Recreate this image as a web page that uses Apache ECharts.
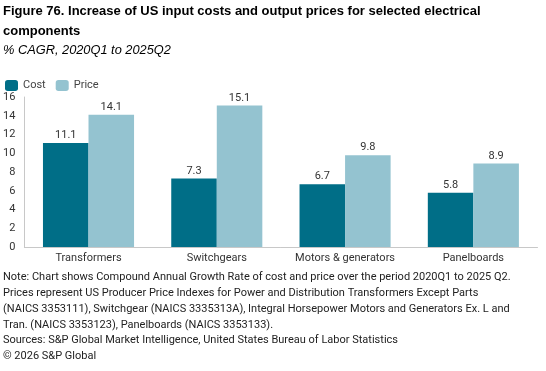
<!DOCTYPE html>
<html><head><meta charset="utf-8">
<script src="https://cdn.jsdelivr.net/npm/echarts@6/dist/echarts.min.js"></script>
<style>html,body{margin:0;padding:0;background:#fff}#c{width:546px;height:371px}</style>
</head><body><div id="c"></div>
<script>
const categories = ["Transformers", "Switchgears", "Motors & generators", "Panelboards"];
const costValues = [11.1, 7.3, 6.7, 5.8];
const priceValues = [14.1, 15.1, 9.8, 8.9];
const yTicks = [0, 2, 4, 6, 8, 10, 12, 14, 16];
const titleLines = ["Figure 76. Increase of US input costs and output prices for selected electrical", "components"];
const subtitle = "% CAGR, 2020Q1 to 2025Q2";
const noteLines = [
  "Note: Chart shows Compound Annual Growth Rate of cost and price over the period 2020Q1 to 2025 Q2.",
  "Prices represent US Producer Price Indexes for Power and Distribution Transformers Except Parts",
  "(NAICS 3353111), Switchgear (NAICS 3335313A), Integral Horsepower Motors and Generators Ex. L and",
  "Tran. (NAICS 3353123), Panelboards (NAICS 3353133).",
  "Sources: S&P Global Market Intelligence, United States Bureau of Labor Statistics",
  "\u00A9 2026 S&P Global"
];

const chart = echarts.init(document.getElementById('c'), null, {renderer: 'canvas'});
const FONT = 'Roboto';
const graphics = [];
titleLines.forEach((t, i) => graphics.push({type: 'text', left: 3, top: 5 + i * 20,
  style: {text: t, font: 'bold 13px "Liberation Sans"', fill: '#000'}}));
graphics.push({type: 'text', left: 3, top: 44, style: {text: subtitle, font: 'italic 12.8px "Liberation Sans"', fill: '#000'}});
noteLines.forEach((t, i) => graphics.push({type: 'text', left: 3, top: 272 + i * 15.8,
  style: {text: t, font: '11px ' + FONT, fill: '#222'}}));

chart.setOption({
  animation: false,
  textStyle: {fontFamily: FONT},
  legend: {left: 0, top: 75, itemWidth: 13, itemHeight: 11, itemGap: 10,
    textStyle: {fontSize: 11, color: '#444', fontFamily: FONT},
    data: ['Cost', 'Price']},
  grid: {left: 20.5, right: 8.5, top: 97, bottom: 124, containLabel: false},
  xAxis: {type: 'category', data: categories,
    axisLine: {lineStyle: {color: '#c8c8c8'}}, axisTick: {show: false},
    axisLabel: {fontSize: 11, color: '#333', margin: 6, interval: 0}},
  yAxis: {type: 'value', min: yTicks[0], max: yTicks[yTicks.length - 1], interval: 2,
    axisLine: {show: true, lineStyle: {color: '#c8c8c8'}}, axisTick: {show: false},
    splitLine: {show: false},
    axisLabel: {fontSize: 11, color: '#333', margin: 9}},
  series: [
    {name: 'Cost', type: 'bar', data: costValues, barGap: '0%', barCategoryGap: '29%',
     itemStyle: {color: '#006E87'},
     label: {show: true, position: 'top', fontSize: 11, color: '#333', distance: 2, formatter: p => p.value.toFixed(1)}},
    {name: 'Price', type: 'bar', data: priceValues,
     itemStyle: {color: '#94C3D0'},
     label: {show: true, position: 'top', fontSize: 11, color: '#333', distance: 2, formatter: p => p.value.toFixed(1)}}
  ],
  graphic: graphics
});
</script></body></html>
